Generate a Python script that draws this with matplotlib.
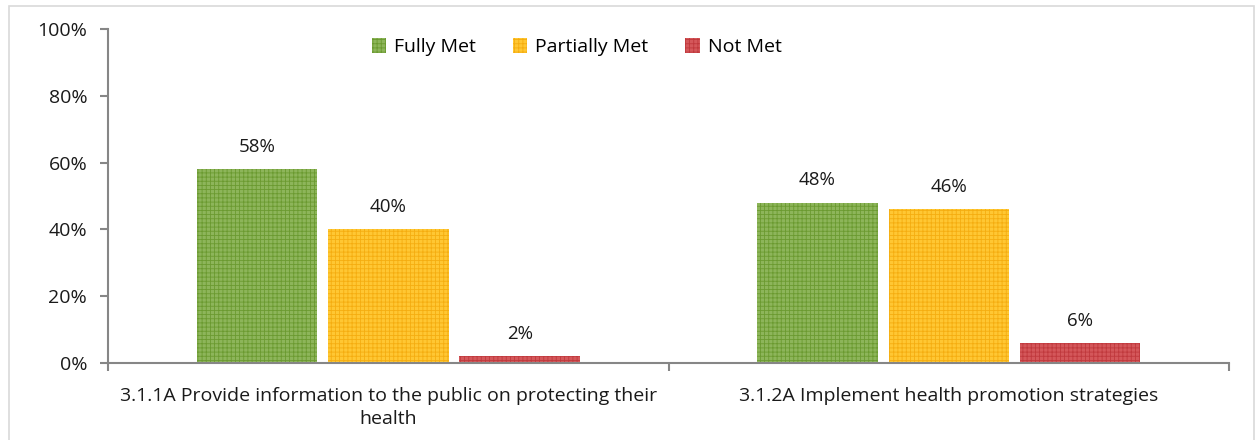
import numpy as np
import matplotlib.pyplot as plt
from matplotlib.patches import Rectangle
from matplotlib.ticker import PercentFormatter

plt.rcParams['font.family'] = ['Open Sans', 'DejaVu Sans']
plt.rcParams['hatch.linewidth'] = 0.6

# Standard compliance by measure
categorias = ['3.1.1A Provide information to the public on protecting their\nhealth',
              '3.1.2A Implement health promotion strategies']
series = ['Fully Met', 'Partially Met', 'Not Met']
fully_met = [58, 48]
partially_met = [40, 46]
not_met = [2, 6]

colores = ['#8db55a', '#ffc733', '#d4575a']
rayas = ['#6b9a30', '#f5ad10', '#c0393d']

fig = plt.figure(figsize=(12.55, 4.4), dpi=100)
ax = fig.add_axes([0.0861, 0.175, 0.8932, 0.759])

# borde exterior del grafico
fig.patches.append(Rectangle((0.0072, -0.01), 0.992, 0.997, transform=fig.transFigure,
                             fill=False, edgecolor='#d9d9d9', linewidth=1.2))

x = np.arange(len(categorias))
ancho = 0.215
paso = 0.2345
for i, (nombre, valores) in enumerate(zip(series, [fully_met, partially_met, not_met])):
    pos = x + (i - 1) * paso
    barras = ax.bar(pos, valores, ancho, color=colores[i], edgecolor=rayas[i],
                    hatch='++++', linewidth=0, label=nombre)
    for b, v in zip(barras, valores):
        ax.text(b.get_x() + b.get_width() / 2, v + 4, f'{v}%', ha='center',
                va='bottom', fontsize=13.5, color='#1a1a1a')

ax.set_xlim(-0.5, 1.5)
ax.set_ylim(0, 100)
ax.yaxis.set_major_formatter(PercentFormatter(decimals=0))
ax.set_yticks(range(0, 101, 20))

# divisiones de categoria en el eje x
ax.set_xticks([-0.5, 0.5, 1.5])
ax.set_xticklabels([])
ax.set_xticks(x, minor=True)
ax.set_xticklabels(categorias, minor=True, fontsize=14, color='#1a1a1a',
                   linespacing=1.4)
ax.tick_params(axis='x', which='minor', length=0, pad=17)
ax.tick_params(axis='x', which='major', length=6, width=1.5, color='#868686', direction='out')
ax.tick_params(axis='y', length=6, width=1.5, color='#868686', labelsize=14,
               labelcolor='#1a1a1a', pad=9)

for lado in ['top', 'right']:
    ax.spines[lado].set_visible(False)
for lado in ['left', 'bottom']:
    ax.spines[lado].set_color('#868686')
    ax.spines[lado].set_linewidth(1.5)

ax.legend(loc='upper center', bbox_to_anchor=(0.418, 1.025), ncol=3, frameon=False,
          fontsize=14, handlelength=0.75, handleheight=0.75, columnspacing=1.9,
          handletextpad=0.4)

fig.savefig('out.png', dpi=100)
